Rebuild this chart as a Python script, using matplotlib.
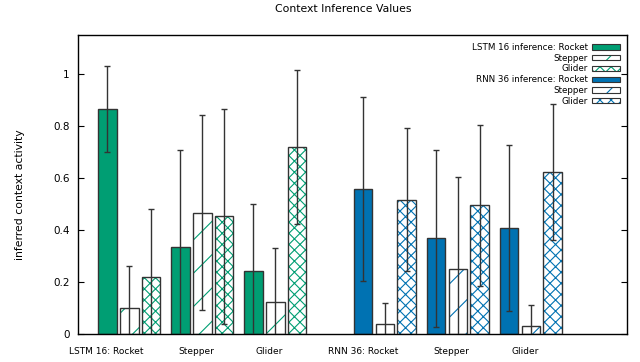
import numpy as np
import matplotlib
matplotlib.use("Agg")
import matplotlib.pyplot as plt

# values
contexts = ["Rocket", "Stepper", "Glider"]
tick_labels = ["LSTM 16: Rocket", "Stepper", "Glider", "RNN 36: Rocket", "Stepper", "Glider"]

# rows = inferred context (Rocket, Stepper, Glider), cols = true context cluster
lstm_mean = np.array([[0.866, 0.335, 0.244],
                      [0.099, 0.467, 0.124],
                      [0.218, 0.452, 0.721]])
lstm_err = np.array([[0.165, 0.371, 0.255],
                     [0.163, 0.375, 0.208],
                     [0.263, 0.414, 0.296]])

rnn_mean = np.array([[0.556, 0.368, 0.407],
                     [0.038, 0.249, 0.030],
                     [0.517, 0.495, 0.623]])
rnn_err = np.array([[0.354, 0.340, 0.320],
                    [0.082, 0.354, 0.083],
                    [0.274, 0.310, 0.260]])

green = "#009e73"
blue = "#0072b2"
edge = "#333333"

plt.rcParams["font.family"] = ["DejaVu Sans"]
plt.rcParams["hatch.linewidth"] = 0.8

fig = plt.figure(figsize=(6.4, 3.62), dpi=100)
ax = fig.add_axes([78 / 640, 1 - 334 / 362, (627 - 78) / 640, (334 - 35) / 362])

lstm_x = np.array([0.0, 1.0, 2.0])
rnn_x = np.array([3.5, 4.5, 5.5])
offsets = [-0.3, 0.0, 0.3]
width = 0.253
hatches = [None, "/", "xxx"]

handles = []
labels = []
for name, xs, means, errs, col in [("LSTM 16", lstm_x, lstm_mean, lstm_err, green),
                                   ("RNN 36", rnn_x, rnn_mean, rnn_err, blue)]:
    for i, ctx in enumerate(contexts):
        x = xs + offsets[i]
        if hatches[i] is None:
            ax.bar(x, means[i], width, color=col, edgecolor=edge, linewidth=1.0, zorder=2)
            h = plt.Rectangle((0, 0), 1, 1, facecolor=col, edgecolor=edge, linewidth=0.8)
        else:
            ax.bar(x, means[i], width, color="white", edgecolor=col, hatch=hatches[i],
                   linewidth=0, zorder=2)
            ax.bar(x, means[i], width, fill=False, edgecolor=edge, linewidth=1.0, zorder=3)
            h = (plt.Rectangle((0, 0), 1, 1, facecolor="white", edgecolor=col,
                               hatch=hatches[i], linewidth=0),
                 plt.Rectangle((0, 0), 1, 1, fill=False, edgecolor=edge, linewidth=0.8))
        ax.errorbar(x, means[i], yerr=errs[i], fmt="none", ecolor=edge,
                    elinewidth=1.0, capsize=2.4, capthick=1.0, zorder=4)
        handles.append(h)
        labels.append(f"{name} inference: {ctx}" if i == 0 else ctx)

ax.set_xlim(-0.703, 6.818)
ax.set_ylim(0, 1.15)
ax.set_yticks([0, 0.2, 0.4, 0.6, 0.8, 1.0])
ax.set_yticklabels(["0", "0.2", "0.4", "0.6", "0.8", "1"])

label_x = np.concatenate([lstm_x, rnn_x]) + np.array([-0.31, -0.08, -0.085, -0.29, -0.085, -0.08])
ax.set_xticks(label_x)
ax.set_xticklabels(tick_labels)
ax.tick_params(axis="x", length=0, pad=9, labelsize=6.5)
ax.tick_params(axis="y", direction="in", length=4.5, right=True, labelsize=7.5, pad=6)
for s in ax.spines.values():
    s.set_linewidth(1.0)

leg = ax.legend(handles, labels, loc="upper right", bbox_to_anchor=(0.993, 0.985),
                frameon=False, markerfirst=False, fontsize=6.3, handlelength=3.2,
                handleheight=0.55, labelspacing=0.2, handletextpad=0.4, borderaxespad=0)

fig.text(343 / 640, 1 - 9 / 362, "Context Inference Values", ha="center", va="center", fontsize=7.8)
fig.text(20 / 640, 1 - 195 / 362, "inferred context activity", rotation=90,
         ha="center", va="center", fontsize=7.8)

fig.savefig("out.png", dpi=100)
